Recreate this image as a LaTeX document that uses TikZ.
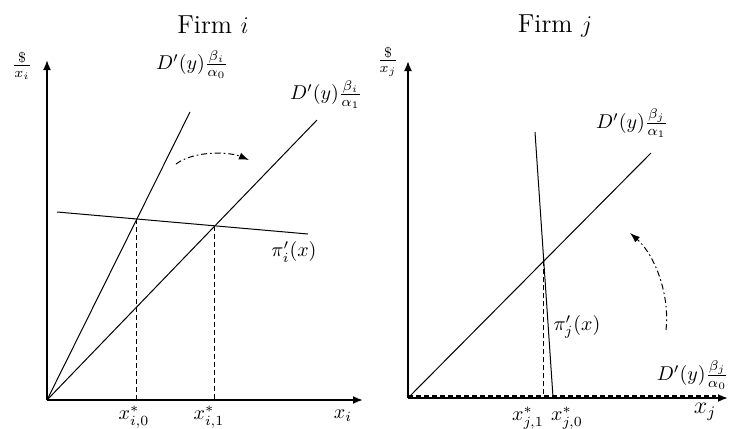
\documentclass[tikz,border=0pt]{standalone}
\usetikzlibrary{arrows.meta}
\begin{document}
\begin{tikzpicture}[x=0.5pt,y=-0.5pt,
  axis/.style={line width=0.9pt,-{Latex[length=5pt,width=4pt]}},
  curve/.style={line width=0.5pt},
  guide/.style={line width=0.5pt,dash pattern=on 2.5pt off 1.5pt},
  turn/.style={line width=0.5pt,dash pattern=on 3pt off 1.5pt on 0.8pt off 1.5pt,-{Latex[length=5pt,width=3.5pt]}},
  lbl/.style={inner sep=0pt}]
\useasboundingbox (0,0) rectangle (730,429);
% ---------- Firm i ----------
\coordinate (Oi) at (47,400);
\coordinate (Yi) at (47,60);
\coordinate (Xi) at (363,400);
\coordinate (A0) at (190,112);
\coordinate (A1) at (317,120);
\coordinate (P0) at (57,212);
\coordinate (P1) at (308,234);
\draw[axis] (Oi) -- (Yi);
\draw[axis] (Oi) -- (Xi);
\draw[curve] (Oi) -- (A0);
\draw[curve] (Oi) -- (A1);
\draw[curve] (P0) -- (P1);
\coordinate (Ii0) at (intersection of Oi--A0 and P0--P1);
\coordinate (Ii1) at (intersection of Oi--A1 and P0--P1);
\draw[guide] (Ii0) -- (Ii0 |- Oi);
\draw[guide] (Ii1) -- (Ii1 |- Oi);
\coordinate (Ts) at (176,164);
\coordinate (Te) at (249,160);
\draw[turn] (Ts) .. controls (195,150) and (230,152) .. (Te);
\node[lbl,font=\fontsize{13}{15}\selectfont] (Fi) at (213,25) {Firm $i$};
\node[lbl] (Ui) at (22,66) {$\frac{\$}{x_i}$};
\node[lbl] (La0) at (192,65) {$D'(y)\frac{\beta_i}{\alpha_0}$};
\node[lbl] (La1) at (326,95) {$D'(y)\frac{\beta_i}{\alpha_1}$};
\node[lbl] (Lpi) at (294,252) {$\pi_i'(x)$};
\node[lbl] (Lx0) at (134,417) {$x_{i,0}^*$};
\node[lbl] (Lx1) at (209,417) {$x_{i,1}^*$};
\node[lbl] (Lxi) at (343,416) {$x_i$};
% ---------- Firm j ----------
\coordinate (Oj) at (408,398);
\coordinate (Yj) at (408,61);
\coordinate (Xj) at (728,398);
\coordinate (B1) at (651,153);
\coordinate (Q0) at (535,132);
\coordinate (Q1) at (553,397);
\coordinate (Hj) at (716,396);
\draw[axis] (Oj) -- (Yj);
\draw[axis] (Oj) -- (Xj);
\draw[curve] (Oj) -- (B1);
\draw[curve] (Q0) -- (Q1);
\draw[guide,line width=0.6pt] (Oj) ++(0,-2) -- (Hj);
\coordinate (Ij1) at (intersection of Oj--B1 and Q0--Q1);
\draw[guide,line width=0.6pt] (Ij1) -- (Ij1 |- Hj);
\coordinate (Us) at (666,330);
\coordinate (Ue) at (630,233);
\draw[turn] (Us) .. controls (670,295) and (655,255) .. (Ue);
\node[lbl,font=\fontsize{13}{15}\selectfont] (Fj) at (555,26) {Firm $j$};
\node[lbl] (Uj) at (388,62) {$\frac{\$}{x_j}$};
\node[lbl] (Lb1) at (632,123) {$D'(y)\frac{\beta_j}{\alpha_1}$};
\node[lbl,anchor=east] (Lb0) at (729,375) {$D'(y)\frac{\beta_j}{\alpha_0}$};
\node[lbl] (Lpj) at (577,327) {$\pi_j'(x)$};
\node[lbl] (Ly1) at (528,418) {$x_{j,1}^*$};
\node[lbl] (Ly0) at (567,418) {$x_{j,0}^*$};
\node[lbl,font=\large] (Lxj) at (705,412) {$x_j$};
\end{tikzpicture}
\end{document}
